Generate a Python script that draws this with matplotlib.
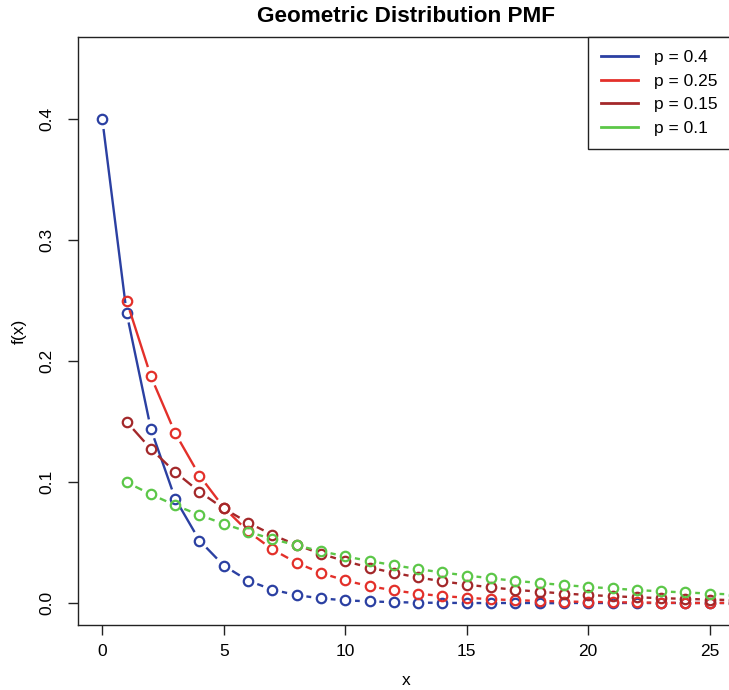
import numpy as np
import matplotlib
matplotlib.use("Agg")
import matplotlib.pyplot as plt

# ---- data ----
x_04 = list(range(0, 27))
y_04 = [0.4, 0.24, 0.144, 0.0864, 0.0518, 0.0311, 0.0187, 0.0112, 0.0067, 0.0040,
        0.0024, 0.0015, 0.0009, 0.0005, 0.0003, 0.0002, 0.0001, 0.0001, 0.0001, 0.0000,
        0.0000, 0.0000, 0.0000, 0.0000, 0.0000, 0.0000, 0.0000]
x_025 = list(range(1, 27))
y_025 = [0.25, 0.1875, 0.1406, 0.1055, 0.0791, 0.0593, 0.0445, 0.0334, 0.0250, 0.0188,
         0.0141, 0.0106, 0.0079, 0.0059, 0.0045, 0.0033, 0.0025, 0.0019, 0.0014, 0.0011,
         0.0008, 0.0006, 0.0004, 0.0003, 0.0003, 0.0002]
x_015 = list(range(1, 27))
y_015 = [0.15, 0.1275, 0.1084, 0.0921, 0.0783, 0.0666, 0.0566, 0.0481, 0.0409, 0.0347,
         0.0295, 0.0251, 0.0213, 0.0181, 0.0154, 0.0131, 0.0111, 0.0095, 0.0080, 0.0068,
         0.0058, 0.0049, 0.0042, 0.0036, 0.0030, 0.0026]
x_01 = list(range(1, 27))
y_01 = [0.1, 0.09, 0.081, 0.0729, 0.0656, 0.0590, 0.0531, 0.0478, 0.0430, 0.0387,
        0.0349, 0.0314, 0.0282, 0.0254, 0.0229, 0.0206, 0.0185, 0.0167, 0.0150, 0.0135,
        0.0122, 0.0109, 0.0098, 0.0089, 0.0080, 0.0072]

labels = ["p = 0.4", "p = 0.25", "p = 0.15", "p = 0.1"]
colors = ["#2b40a2", "#e3302a", "#a3282a", "#5cc748"]
xticks = [0, 5, 10, 15, 20, 25]
yticks = [0.0, 0.1, 0.2, 0.3, 0.4]

series = [(x_04, y_04), (x_025, y_025), (x_015, y_015), (x_01, y_01)]

plt.rcParams['font.family'] = ['Liberation Sans', 'DejaVu Sans']

W, H = 729, 690
fig = plt.figure(figsize=(W / 100, H / 100), dpi=100)
L, R, T, B = 78, 734, 37, 625
ax = fig.add_axes([L / W, 1 - B / H, (R - L) / W, (B - T) / H])

for s in ax.spines.values():
    s.set_linewidth(1.0)
    s.set_color("#222222")

ax.set_xticks(xticks)
ax.set_yticks(yticks)
ax.set_yticklabels(["%.1f" % v for v in yticks], rotation=90, va='center')
ax.set_xlim(-1, 26)
ax.set_ylim(-0.018, 0.468)
ax.tick_params(axis='both', direction='out', length=7.2, width=1.0, labelsize=12.5,
               color="#222222")
ax.tick_params(axis='x', pad=6.5)
ax.tick_params(axis='y', pad=10)
ax.set_xlabel("x", fontsize=12.5, labelpad=10)
ax.set_ylabel("f(x)", fontsize=12.5, labelpad=9)
ax.set_title("Geometric Distribution PMF", fontsize=16.2, fontweight='bold', pad=10.5)

gap = 9.8  # px gap around points (type="b")
trans = ax.transData
inv = trans.inverted()
for (xs, ys), c, lab in zip(series, colors, labels):
    pts = trans.transform(np.column_stack([xs, ys]))
    for i in range(len(pts) - 1):
        p0, p1 = pts[i], pts[i + 1]
        d = p1 - p0
        Ls = np.hypot(*d)
        if Ls <= 2 * gap:
            continue
        u = d / Ls
        a = inv.transform(p0 + u * gap)
        b = inv.transform(p1 - u * gap)
        ax.plot([a[0], b[0]], [a[1], b[1]], color=c, lw=1.7, solid_capstyle='butt')
    ax.plot(xs, ys, linestyle='none', marker='o', markersize=6.8,
            markerfacecolor='none', markeredgecolor=c, markeredgewidth=1.6)
    ax.plot([], [], color=c, lw=2, label=lab)

leg = ax.legend(loc='upper left', bbox_to_anchor=(588 / W, 1 - 37 / H),
                bbox_transform=fig.transFigure, borderaxespad=0,
                fontsize=12.5, frameon=True, fancybox=False, framealpha=1,
                edgecolor='#222222', handlelength=2.13, handletextpad=0.92,
                labelspacing=0.49, borderpad=0.75)
leg.get_frame().set_linewidth(1.0)

fig.savefig("out.png", dpi=100)
